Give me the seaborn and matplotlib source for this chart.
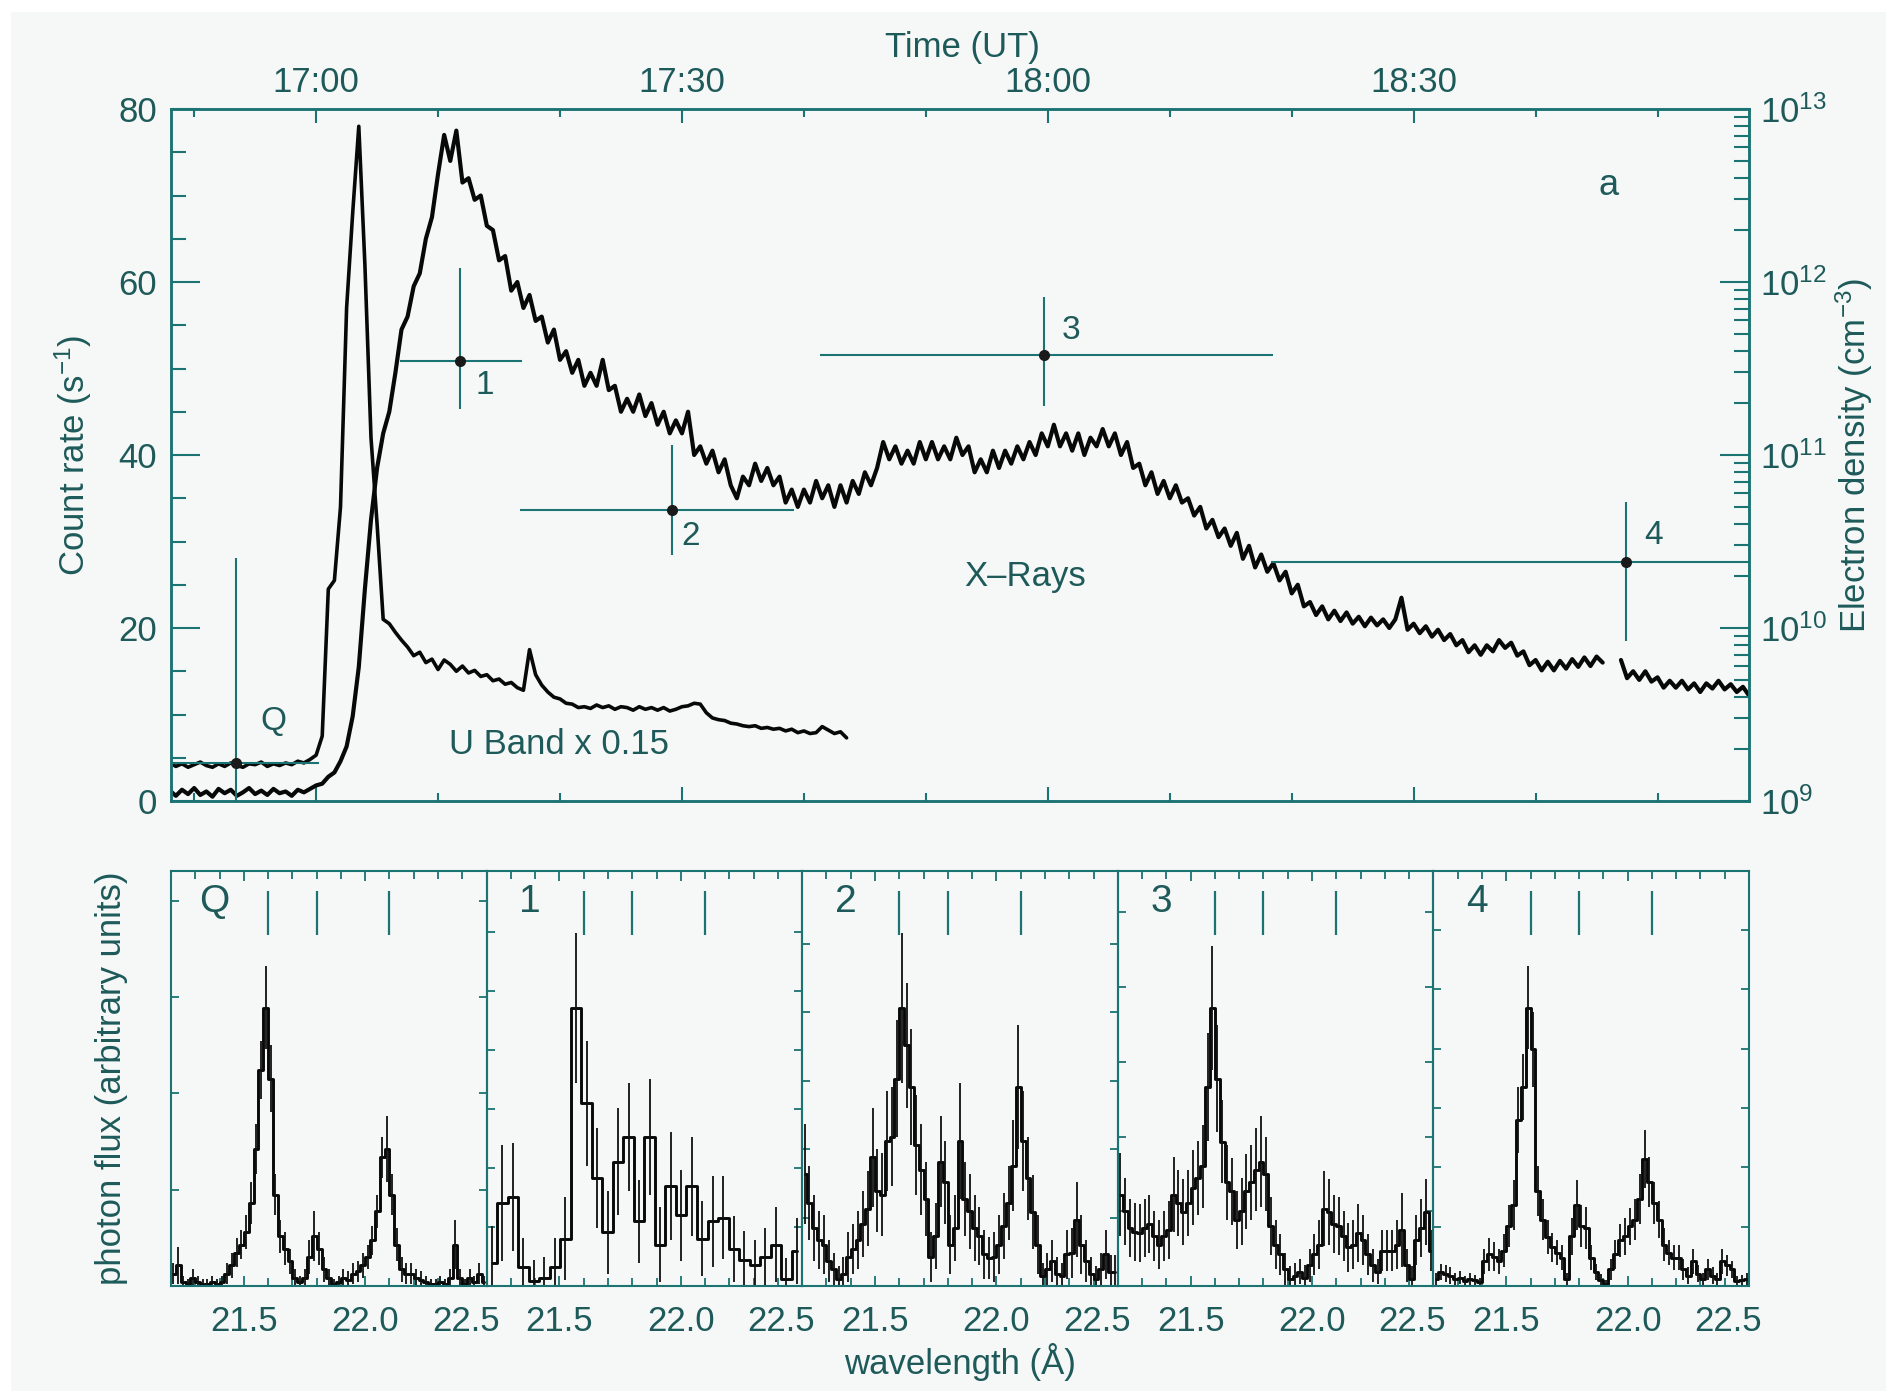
import numpy as np
import pandas as pd
import matplotlib
matplotlib.use('Agg')
import matplotlib.pyplot as plt
import matplotlib.ticker as mticker
import matplotlib.transforms as mtransforms
from matplotlib.patches import Rectangle
import seaborn as sns

sns.set_theme(style='ticks')
plt.rcParams['font.family'] = ['Liberation Sans', 'DejaVu Sans']
plt.rcParams['mathtext.fontset'] = 'custom'
plt.rcParams['mathtext.rm'] = 'Liberation Sans'
plt.rcParams['mathtext.it'] = 'Liberation Sans:italic'
plt.rcParams['mathtext.bf'] = 'Liberation Sans:bold'

TEAL = '#1b7373'
TXT = '#1e5a5a'
BG = '#f5f8f6'

# ---------------- light curves (minutes after 17:00 UT, counts/s) ----------------
xray_t = np.arange(-12.0, 118.0, 0.5)
xray_rate = [
    1.2, 0.6, 1.3, 0.8, 1.5, 0.7, 1.1, 0.5, 1.4, 0.9, 1.3, 0.6, 1.0, 1.5, 0.8, 1.2, 0.7, 1.4, 0.9, 1.1,
    0.6, 1.3, 1.0, 1.4, 1.8, 2.0, 2.8, 3.3, 4.6, 6.3, 9.8, 15.5, 24.5, 32.5, 38.5, 42.5, 45.0, 49.5, 54.5, 56.0,
    59.5, 61.0, 65.0, 67.5, 72.5, 77.0, 74.0, 77.5, 71.5, 72.0, 69.5, 70.0, 66.5, 66.0, 62.5, 63.0, 59.0, 60.0, 57.0, 58.5,
    55.5, 56.0, 53.0, 54.5, 51.0, 52.0, 49.5, 51.0, 48.0, 49.5, 48.0, 51.0, 47.5, 48.0, 45.0, 46.5, 45.0, 47.0, 44.5, 46.0,
    43.5, 45.0, 42.5, 44.0, 42.5, 45.0, 40.0, 41.0, 39.0, 40.5, 38.0, 39.5, 36.5, 35.0, 37.5, 36.5, 39.0, 37.0, 38.5, 36.5,
    37.5, 34.5, 36.0, 34.0, 36.0, 34.5, 37.0, 35.0, 36.5, 34.0, 36.5, 34.5, 37.0, 35.5, 38.0, 36.5, 38.5, 41.5, 39.5, 41.0,
    39.0, 40.5, 39.0, 41.5, 39.5, 41.5, 39.5, 41.0, 39.5, 42.0, 40.0, 41.0, 38.0, 39.5, 38.0, 40.5, 38.5, 40.5, 39.0, 41.0,
    39.5, 41.5, 40.0, 42.5, 41.0, 43.5, 41.0, 42.5, 40.5, 42.5, 40.0, 42.0, 41.0, 43.0, 41.0, 42.5, 40.0, 41.5, 38.5, 39.0,
    36.5, 38.0, 35.5, 37.0, 35.0, 36.5, 34.5, 35.0, 33.0, 34.0, 31.5, 32.5, 30.5, 31.5, 29.5, 31.0, 28.0, 29.5, 27.0, 28.5,
    26.5, 27.5, 25.5, 26.5, 24.0, 25.0, 22.5, 23.0, 21.5, 22.5, 21.0, 22.0, 20.8, 21.8, 20.5, 21.3, 20.2, 21.2, 20.3, 21.0,
    20.0, 21.0, 23.5, 19.8, 20.5, 19.4, 20.2, 19.0, 19.8, 18.6, 19.3, 18.0, 18.6, 17.2, 18.0, 16.9, 18.0, 17.3, 18.6, 17.7,
    18.3, 16.8, 17.3, 15.7, 16.3, 15.1, 16.1, 15.1, 16.2, 15.3, 16.4, 15.5, 16.6, 15.6, 16.7, 16.0, np.nan, np.nan, 16.3, 14.2,
    15.0, 14.0, 15.0, 13.8, 14.3, 13.1, 13.9, 13.1, 13.9, 12.9, 13.6, 12.6, 13.6, 13.0, 13.9, 12.9, 13.5, 12.6, 13.2, 12.2,
]

uband_t = np.arange(-12.0, 44.0, 0.5)
uband_rate = [
    4.4, 4.0, 4.3, 3.9, 4.2, 4.5, 4.1, 3.9, 4.3, 4.0, 4.4, 4.1, 3.9, 4.3, 4.2, 4.5, 4.0, 4.3, 4.1, 4.4,
    4.2, 4.6, 4.4, 4.8, 5.3, 7.5, 24.5, 25.5, 34.0, 57.0, 68.0, 78.0, 62.0, 42.0, 32.0, 21.0, 20.5, 19.5, 18.6, 17.8,
    16.8, 17.2, 16.0, 16.4, 15.2, 16.3, 15.8, 15.0, 15.6, 14.8, 15.1, 14.4, 14.6, 13.9, 14.1, 13.5, 13.7, 13.1, 12.8, 17.5,
    14.6, 13.4, 12.6, 12.0, 11.8, 11.3, 11.2, 10.8, 10.9, 10.7, 11.1, 10.8, 11.0, 10.6, 10.9, 10.8, 10.5, 10.9, 10.6, 10.8,
    10.5, 10.8, 10.4, 10.6, 10.9, 11.0, 11.3, 11.2, 10.2, 9.6, 9.4, 9.3, 9.0, 8.9, 8.7, 8.6, 8.7, 8.4, 8.5, 8.3,
    8.4, 8.1, 8.3, 7.9, 8.1, 7.8, 7.9, 8.6, 8.2, 7.8, 8.0, 7.3,
]

# ---------------- electron densities from the spectra ----------------
spec_labels = ['Q', '1', '2', '3', '4']
spec_time = [-6.6, 11.8, 29.2, 59.7, 107.4]
spec_t0 = [-14.0, 6.9, 16.7, 41.3, 78.3]
spec_t1 = [0.2, 16.9, 39.2, 78.5, 125.0]
spec_density = [1.66e9, 3.51e11, 4.79e10, 3.76e11, 2.40e10]
spec_dens_lo = [5.0e8, 1.84e11, 2.63e10, 1.91e11, 8.4e9]
spec_dens_hi = [2.54e10, 1.20e12, 1.14e11, 8.2e11, 5.37e10]

# ---------------- O VII spectra (per cent of panel height) ----------------
triplet_wl = [21.60, 21.80, 22.10]
fine_wl = 21.21 + 0.02 * np.arange(65)
coarse_edges = np.linspace(21.2, 22.5, 31)
coarse_wl = 0.5 * (coarse_edges[:-1] + coarse_edges[1:])

flux_q = [3, 5, 1, 0.5, 2, 1, 0.5, 0.5, 1, 0.5,
          1, 3, 5, 8, 10, 13, 20, 33, 52, 67,
          50, 22, 12, 9, 6, 2, 1, 2, 7, 12,
          9, 4, 2, 0.5, 1, 2, 1.5, 3, 3.5, 5,
          7, 11, 18, 31, 33, 22, 10, 4, 3, 3,
          2, 1.5, 1, 0.5, 0.5, 1, 0.5, 2, 10, 2,
          0.5, 2, 1, 3, 1]
err_q = [2.5, 4.5, 1.5, 1.2, 2, 1.5, 1.2, 1.2, 1.5, 1.2,
         1.5, 2.5, 3, 3.5, 3.5, 4, 5, 6, 7, 10,
         8, 5, 4, 4, 3, 2, 1.5, 2, 4, 6,
         4, 3, 2, 1.2, 1.5, 2, 2, 2.5, 2.5, 3,
         3, 3.5, 4, 5, 8, 5, 4, 3, 2.5, 2.5,
         2, 2, 1.5, 1.2, 1.2, 1.5, 1.2, 2, 6, 2,
         1.2, 2, 1.5, 2.5, 1.5]

flux_1 = [5.5, 20, 21.5, 4.6, 1.3, 2, 4.6, 11.4, 67, 44,
          26, 13, 30, 36, 15.6, 36, 10, 24, 17, 24,
          11.4, 15.6, 16.5, 8.9, 6.3, 5, 7, 10, 1.7, 8.5]
err_1 = [9, 14, 13, 7, 5, 5, 7, 10, 18, 15,
         12, 10, 13, 13, 10, 14, 9, 13, 11, 12,
         9, 11, 10, 8, 7, 6, 7, 9, 5, 8]

flux_2 = [27, 20, 14, 11, 10, 6, 4, 1.7, 3, 7,
          9, 11, 15, 18.6, 31, 23, 22, 35, 36, 50,
          67, 58, 48, 34, 28, 21, 7, 12, 30, 25,
          10, 14, 35, 21, 18, 14, 12, 7.6, 6.8, 7,
          10, 14.4, 20, 29, 48, 35, 26, 17.8, 10, 2.5,
          4, 6, 3, 2.5, 7.6, 8, 16, 10, 6, 3,
          1.7, 4, 7.6, 3.4, 3.4]
err_2 = [12, 9, 8, 7, 7, 5, 4, 3, 4, 6,
         6, 7, 8, 9, 12, 10, 10, 12, 12, 14,
         18, 15, 14, 12, 11, 9, 6, 8, 11, 10,
         7, 8, 14, 9, 9, 8, 7, 6, 5, 6,
         7, 8, 9, 11, 15, 12, 10, 9, 7, 3,
         4, 5, 4, 3, 6, 6, 9, 7, 5, 4,
         3, 4, 6, 4, 4]

flux_3 = [22, 18, 14, 13, 12.7, 14, 15, 12, 10, 12,
          13.5, 22, 20, 17.8, 20, 23.7, 26, 28.8, 48, 67,
          50, 34.7, 25, 22.8, 16, 18, 22.8, 25, 28, 30,
          27, 14.4, 10, 7.6, 4, 1.7, 2.5, 3.4, 2, 5,
          7.6, 10, 18.6, 17.8, 15, 14.4, 12, 9.3, 10, 12.7,
          11, 7.6, 5, 3.4, 8.5, 8.5, 8.5, 10, 13.5, 5,
          1.7, 11, 14, 17.8, 8.5]
err_3 = [10, 8, 7, 7, 7, 7, 7, 6, 6, 6,
         7, 9, 8, 8, 8, 9, 9, 10, 13, 15,
         13, 10, 9, 8, 7, 8, 9, 9, 10, 11,
         9, 7, 6, 5, 4, 3, 3, 3, 3, 4,
         5, 6, 9, 8, 7, 7, 6, 6, 6, 7,
         6, 5, 4, 3, 5, 5, 5, 6, 9, 4,
         3, 6, 7, 8, 5]

flux_4 = [1.7, 3.4, 3, 2.5, 1.7, 2, 1.3, 1.7, 1.5, 1,
          6, 7.6, 7, 6, 8.5, 14.4, 19.5, 40, 48, 67,
          57, 22.8, 16, 11.8, 9.3, 8, 6.8, 1.7, 12, 19.5,
          14.4, 14, 6.8, 3.4, 1.5, 0.4, 4, 7.6, 11, 12,
          14.4, 16, 21, 30.5, 25, 20, 16, 10, 8, 6.8,
          6.8, 4, 2.5, 6, 3, 1.7, 4, 2.5, 1.7, 6,
          5, 4, 1.3, 1.5, 1.7]
err_4 = [1.5, 2, 2, 2, 1.5, 1.5, 1.2, 1.5, 1.2, 1,
         3, 4, 3.5, 3, 4, 5, 6, 8, 8, 10,
         9, 6, 5, 4, 3.5, 3, 3, 1.5, 4.5, 6,
         5, 5, 3, 2, 1.5, 1, 2.5, 3.5, 4, 4.5,
         4.5, 5, 6, 7, 6, 5, 4.5, 4, 3, 3,
         3, 2.5, 2, 3, 2, 1.5, 2.5, 2, 1.5, 3,
         2.5, 2, 1.2, 1.2, 1.5]

spectra = [(fine_wl, flux_q, err_q), (coarse_wl, flux_1, err_1), (fine_wl, flux_2, err_2),
           (fine_wl, flux_3, err_3), (fine_wl, flux_4, err_4)]
ytick_step = [23.2, 14.2, 16.5, 18.0, 14.3]

# ---------------- figure ----------------
W, H = 1886, 1391
fig = plt.figure(figsize=(W / 100, H / 100), dpi=100)
fig.patch.set_facecolor('white')
fig.add_artist(Rectangle((11 / W, 0), 1, 1 - 12 / H, transform=fig.transFigure,
                         facecolor=BG, edgecolor='none', zorder=-5))

FS = 25

# top panel: light curves
ax = fig.add_axes([171 / W, 1 - 801 / H, 1578 / W, 692 / H])
ax.set_facecolor('none')

xr = pd.DataFrame({'t': xray_t, 'rate': xray_rate})
xr['seg'] = xr['rate'].isna().cumsum()
xr = xr.dropna()
sns.lineplot(data=xr, x='t', y='rate', units='seg', estimator=None, color='#080808',
             lw=3.0, ax=ax, legend=False)
ub = pd.DataFrame({'t': uband_t, 'rate': uband_rate})
sns.lineplot(data=ub, x='t', y='rate', estimator=None, color='#080808', lw=2.6, ax=ax)
ax.set_xlabel('')
ax.set_ylabel('')
ax.set_xlim(-11.9, 117.5)
ax.set_ylim(0, 80)

ax.xaxis.set_major_locator(mticker.MultipleLocator(30))
ax.xaxis.set_minor_locator(mticker.MultipleLocator(10))
ax.xaxis.set_major_formatter(mticker.FuncFormatter(
    lambda v, p: f'{17 + int(round(v)) // 60}:{int(round(v)) % 60:02d}'))
ax.yaxis.set_major_locator(mticker.MultipleLocator(20))
ax.yaxis.set_minor_locator(mticker.MultipleLocator(5))
ax.tick_params(axis='x', which='both', direction='in', top=True, bottom=True,
               labeltop=True, labelbottom=False, color=TEAL, width=1.5,
               labelcolor=TXT, labelsize=FS, pad=7.5)
ax.tick_params(axis='x', which='major', length=10)
ax.tick_params(axis='x', which='minor', length=5.8)
ax.tick_params(axis='y', which='both', direction='in', left=True, right=False,
               color=TEAL, width=1.5, labelcolor=TXT, labelsize=FS, pad=10)
ax.tick_params(axis='y', which='major', length=21)
ax.tick_params(axis='y', which='minor', length=11)

ax2 = ax.twinx()
ax2.set_yscale('log')
ax2.set_ylim(1e9, 1e13)
ax2.yaxis.set_major_locator(mticker.LogLocator(base=10, numticks=10))
ax2.yaxis.set_minor_locator(mticker.LogLocator(base=10, subs=np.arange(2, 10), numticks=50))
ax2.yaxis.set_minor_formatter(mticker.NullFormatter())
ax2.tick_params(axis='y', which='both', direction='in', right=True, left=False,
                color=TEAL, width=1.5, labelcolor=TXT, labelsize=FS, pad=8)
ax2.tick_params(axis='y', which='major', length=21)
ax2.tick_params(axis='y', which='minor', length=11)

for a in (ax, ax2):
    for s in a.spines.values():
        s.set_color(TEAL)
        s.set_linewidth(1.8)

label_offsets = [(27, 30), (18, -18), (13, -19), (19, 18), (20, 19)]
for i, lab in enumerate(spec_labels):
    ax2.errorbar(spec_time[i], spec_density[i],
                 xerr=[[spec_time[i] - spec_t0[i]], [spec_t1[i] - spec_time[i]]],
                 yerr=[[spec_density[i] - spec_dens_lo[i]], [spec_dens_hi[i] - spec_density[i]]],
                 fmt='o', color='k', ms=7, ecolor=TEAL, elinewidth=1.5, capsize=0)
    ax2.annotate(lab, (spec_time[i], spec_density[i]), xytext=label_offsets[i],
                 textcoords='offset points', ha='center', va='center',
                 fontsize=FS - 1, color=TXT)

ax.text(19.9, 6.5, 'U Band x 0.15', fontsize=FS, color=TXT, ha='center', va='center')
ax.text(58.1, 26.0, 'X\u2013Rays', fontsize=FS, color=TXT, ha='center', va='center')
ax.text(106.0, 71.1, 'a', fontsize=FS + 1, color=TXT, ha='center', va='center')

fig.text(962 / W, 1 - 47 / H, 'Time (UT)', fontsize=FS, color=TXT, ha='center', va='center')
fig.text(73 / W, 1 - 455 / H, 'Count rate (s$^{-1}$)', fontsize=FS, color=TXT,
         ha='center', va='center', rotation=90)
fig.text(1854 / W, 1 - 455 / H, 'Electron density (cm$^{-3}$)', fontsize=FS, color=TXT,
         ha='center', va='center', rotation=90)

# bottom panels: spectra
pw = 1578 / 5
for i, (wl, flux, err) in enumerate(spectra):
    bax = fig.add_axes([(171 + i * pw) / W, 1 - 1286 / H, pw / W, 415 / H])
    bax.set_facecolor('none')
    sns.lineplot(x=wl, y=flux, drawstyle='steps-mid', estimator=None, color='#080808',
                 lw=2.1, ax=bax)
    bax.errorbar(wl, flux, yerr=err, fmt='none', ecolor='#101010', elinewidth=1.3)
    bax.vlines(triplet_wl, 84.6, 95.2, color=TEAL, lw=1.6)
    bax.text(21.38, 92.5, spec_labels[i], fontsize=28, color=TXT, ha='center', va='center')
    bax.set_xlim(21.2, 22.5)
    bax.set_ylim(0, 100)
    bax.set_xticks([21.5, 22.0, 22.5])
    bax.set_xticklabels(['21.5', '22.0', '22.5'])
    bax.xaxis.set_minor_locator(mticker.MultipleLocator(0.1))
    bax.set_yticks(np.arange(ytick_step[i], 99, ytick_step[i]))
    bax.tick_params(axis='both', which='both', direction='in', top=True, bottom=True,
                    left=True, right=True, labelleft=False, color=TEAL, width=1.3,
                    labelcolor=TXT, labelsize=FS, length=5.5)
    bax.tick_params(axis='x', which='major', pad=14, length=7)
    for s in bax.spines.values():
        s.set_color(TEAL)
        s.set_linewidth(1.5)
    shift = mtransforms.ScaledTranslation(-0.21, 0, fig.dpi_scale_trans)
    lab = bax.get_xticklabels()[-1]
    lab.set_transform(lab.get_transform() + shift)

fig.text(112 / W, 1 - 1078 / H, 'photon flux (arbitrary units)', fontsize=FS, color=TXT,
         ha='center', va='center', rotation=90)
fig.text(960 / W, 1 - 1362 / H, 'wavelength (\u00c5)', fontsize=FS, color=TXT,
         ha='center', va='center')

fig.savefig('out.png', dpi=100, facecolor=fig.get_facecolor())
